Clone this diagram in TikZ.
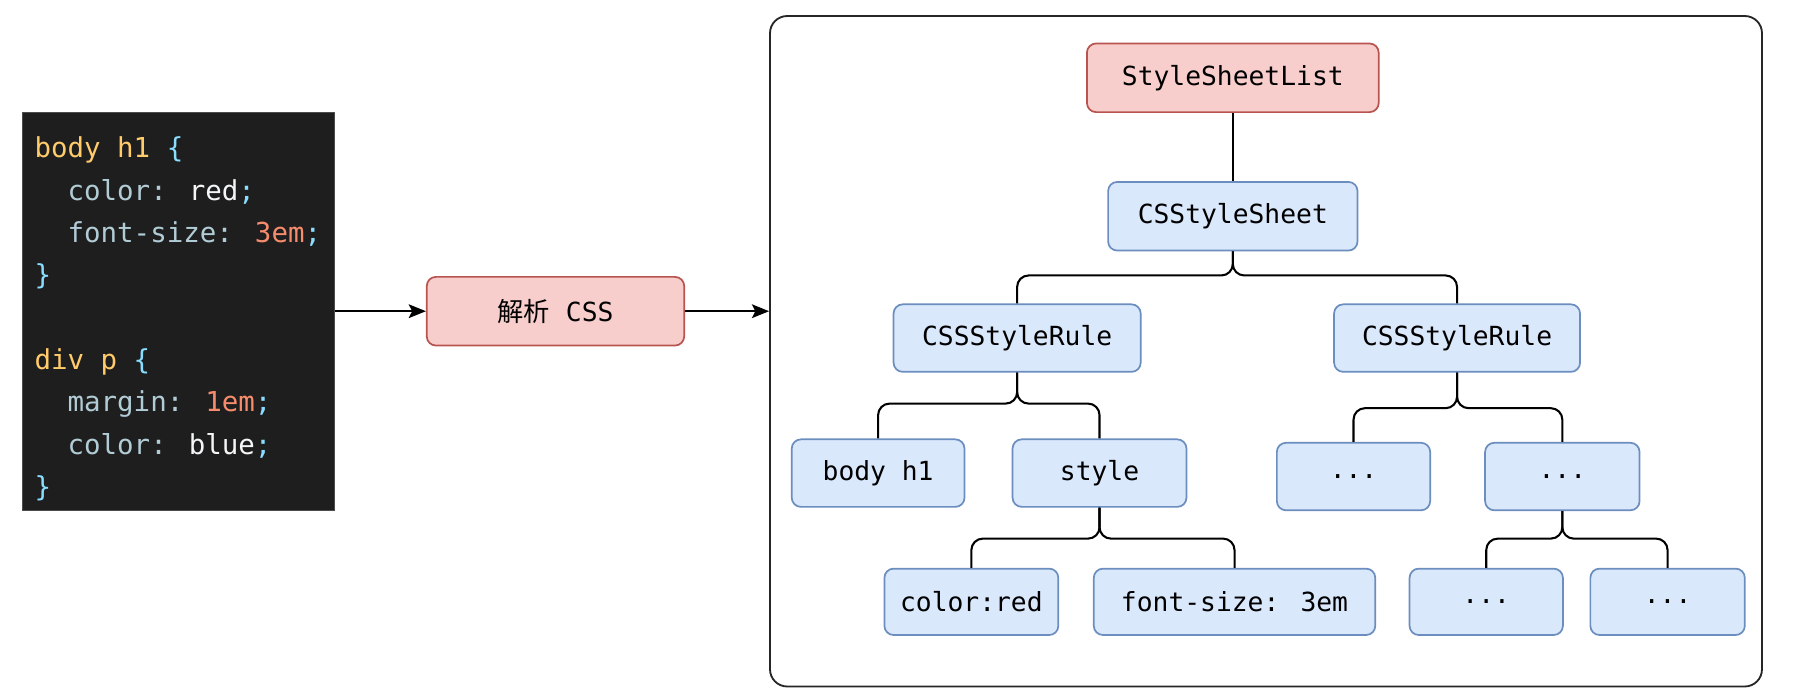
\documentclass[tikz,border=0pt]{standalone}
\usepackage{fontspec}
\newfontfamily\codefont{DejaVu Sans Mono}
\newfontfamily\cjk{Noto Sans CJK SC}
\usetikzlibrary{arrows.meta,calc}
\definecolor{codebg}{HTML}{1E1E1E}
\definecolor{cyel}{HTML}{FFCB6B}
\definecolor{ccyan}{HTML}{89DDFF}
\definecolor{cprop}{HTML}{B2CCD6}
\definecolor{cval}{HTML}{F4F7F7}
\definecolor{cnum}{HTML}{F78C6C}
\definecolor{redfill}{HTML}{F8CECC}
\definecolor{redline}{HTML}{B85450}
\definecolor{bluefill}{HTML}{DAE8FC}
\definecolor{blueline}{HTML}{6C8EBF}
\tikzset{
  box/.style={draw, rounded corners=8pt, line width=1.5pt, inner sep=0pt,
    font=\codefont\fontsize{23}{28}\selectfont, text=black},
  bluebox/.style={box, fill=bluefill, draw=blueline},
  redbox/.style={box, fill=redfill, draw=redline},
  conn/.style={draw=black, line width=1.8pt, rounded corners=10pt},
  arr/.style={draw=black, line width=1.8pt, -{Stealth[length=15pt,width=12pt,inset=3pt]}},
  codeline/.style={anchor=base west, inner sep=0pt, font=\codefont\fontsize{24}{29}\selectfont}
}
\begin{document}
\begin{tikzpicture}[x=1pt,y=-1pt]
\useasboundingbox (0,0) rectangle (1568,611);
% code box
\node[draw=black!70, fill=codebg, line width=0.8pt, minimum width=272pt, minimum height=348pt, inner sep=0pt] (code) at (156,272) {};
\node[codeline] (l1) at (30,138) {\textcolor{cyel}{body h1} \textcolor{ccyan}{\{}};
\node[codeline] (l2) at (30,175) {\textcolor{cprop}{\ \ color:} \textcolor{cval}{red}\textcolor{ccyan}{;}};
\node[codeline] (l3) at (30,212) {\textcolor{cprop}{\ \ font-size:} \textcolor{cnum}{3em}\textcolor{ccyan}{;}};
\node[codeline] (l4) at (30,249) {\textcolor{ccyan}{\}}};
\node[codeline] (l5) at (30,323) {\textcolor{cyel}{div p} \textcolor{ccyan}{\{}};
\node[codeline] (l6) at (30,360) {\textcolor{cprop}{\ \ margin:} \textcolor{cnum}{1em}\textcolor{ccyan}{;}};
\node[codeline] (l7) at (30,397) {\textcolor{cprop}{\ \ color:} \textcolor{cval}{blue}\textcolor{ccyan}{;}};
\node[codeline] (l8) at (30,434) {\textcolor{ccyan}{\}}};
% parse box
\node[redbox, minimum width=225pt, minimum height=60pt] (parse) at (485.5,272) {{\cjk 解析} CSS};
% outer box
\node[draw=black!85, rounded corners=15pt, line width=1.6pt, minimum width=867pt, minimum height=586pt, inner sep=0pt] (outer) at (1106.5,307) {};
% arrows
\draw[arr] (code.east) -- (parse.west);
\draw[arr] (parse.east) -- (parse.east -| outer.west);
% tree nodes
\node[redbox, minimum width=255pt, minimum height=60pt] (ssl) at (1077.5,68) {StyleSheetList};
\node[bluebox, minimum width=218pt, minimum height=60pt] (sheet) at (1077.5,189) {CSStyleSheet};
\node[bluebox, minimum width=216pt, minimum height=59pt] (rule1) at (889,295.5) {CSSStyleRule};
\node[bluebox, minimum width=215pt, minimum height=59pt] (rule2) at (1273.5,295.5) {CSSStyleRule};
\node[bluebox, minimum width=151pt, minimum height=59pt] (bh1) at (767.5,413.5) {body h1};
\node[bluebox, minimum width=152pt, minimum height=59pt] (style) at (961,413.5) {style};
\node[bluebox, minimum width=134pt, minimum height=59pt] (d1) at (1183,416.5) {...};
\node[bluebox, minimum width=135pt, minimum height=59pt] (d2) at (1365.5,416.5) {...};
\node[bluebox, minimum width=152pt, minimum height=58pt] (cr) at (849,526) {color:red};
\node[bluebox, minimum width=246pt, minimum height=58pt] (fs) at (1079,526) {font-size: 3em};
\node[bluebox, minimum width=134pt, minimum height=58pt] (d3) at (1299,526) {...};
\node[bluebox, minimum width=135pt, minimum height=58pt] (d4) at (1457.5,526) {...};
% connectors
\draw[conn] (ssl.south) -- (sheet.north);
\draw[conn] (sheet.south) -- ++(0,21) -| (rule1.north);
\draw[conn] (sheet.south) -- ++(0,21) -| (rule2.north);
\draw[conn] (rule1.south) -- ++(0,27) -| (bh1.north);
\draw[conn] (rule1.south) -- ++(0,27) -| (style.north);
\draw[conn] (rule2.south) -- ++(0,31) -| (d1.north);
\draw[conn] (rule2.south) -- ++(0,31) -| (d2.north);
\draw[conn] (style.south) -- ++(0,27) -| (cr.north);
\draw[conn] (style.south) -- ++(0,27) -| (fs.north);
\draw[conn] (d2.south) -- ++(0,24) -| (d3.north);
\draw[conn] (d2.south) -- ++(0,24) -| (d4.north);
\end{tikzpicture}
\end{document}
